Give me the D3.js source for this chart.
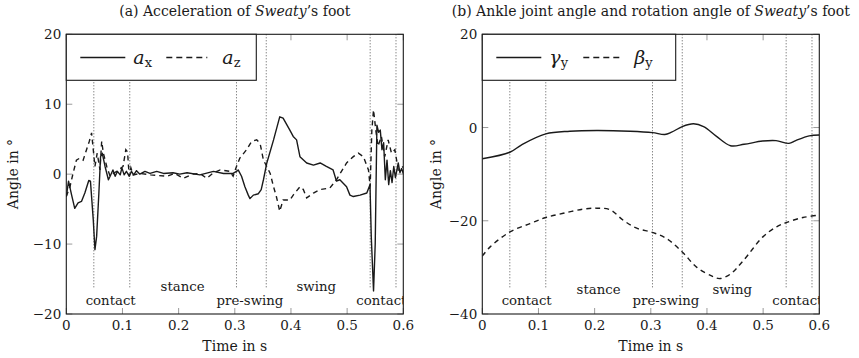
<!DOCTYPE html>
<html>
<head>
<meta charset="utf-8">
<script src="https://cdn.jsdelivr.net/npm/d3@7"></script>
<style>
body { margin: 0; background: #fff; }
</style>
</head>
<body>
<svg id="chart" width="859" height="358"></svg>
<script>
// ---- data ----
// (a) acceleration of the foot
const axTime = [0, 0.004, 0.0095, 0.015, 0.021, 0.027, 0.033, 0.040, 0.043, 0.048, 0.051, 0.054, 0.058, 0.061, 0.064, 0.069, 0.075, 0.078, 0.083, 0.087, 0.091, 0.096, 0.099, 0.103, 0.107, 0.112, 0.116, 0.120, 0.125, 0.131, 0.140, 0.149, 0.161, 0.173, 0.190, 0.202, 0.215, 0.238, 0.262, 0.280, 0.297, 0.303, 0.306, 0.312, 0.318, 0.324, 0.327, 0.333, 0.342, 0.347, 0.351, 0.357, 0.369, 0.380, 0.386, 0.398, 0.404, 0.410, 0.416, 0.428, 0.440, 0.452, 0.463, 0.475, 0.481, 0.487, 0.499, 0.505, 0.511, 0.523, 0.535, 0.5407, 0.543, 0.547, 0.550, 0.553, 0.556, 0.559, 0.562, 0.565, 0.568, 0.571, 0.574, 0.577, 0.580, 0.583, 0.586, 0.591, 0.594, 0.597, 0.600];
const axValue = [-3.2, -1.0, -3.0, -4.9, -4.1, -3.9, -2.7, -0.9, -1.0, -6.5, -10.8, -8.9, -2.7, 2.5, 3.0, 1.1, -0.8, -0.3, 0.6, -0.3, 0.4, -0.1, 0.9, -0.1, 0.4, -0.3, 0.4, -0.1, 0.5, 0.0, 0.4, 0.1, 0.4, 0.1, 0.2, 0.0, 0.2, -0.1, 0.4, 0.1, 0.1, 0.4, 0.6, -0.3, -1.8, -3.0, -3.5, -3.0, -2.8, -2.2, -0.8, 1.6, 4.9, 8.2, 8.0, 6.3, 5.4, 4.9, 2.5, 1.6, 1.3, 1.6, 1.1, 0.6, -1.0, -0.8, -1.8, -3.0, -3.2, -3.0, -2.7, -1.5, -9.0, -16.7, -10.0, 7.0, 6.0, 6.3, 3.5, 4.5, -0.8, 2.0, -1.5, 0.5, -1.2, 1.1, -0.5, 1.6, 0.2, 0.8, 0.1];

const azTime = [0, 0.0065, 0.012, 0.018, 0.024, 0.030, 0.036, 0.041, 0.045, 0.048, 0.051, 0.055, 0.060, 0.063, 0.066, 0.072, 0.078, 0.084, 0.093, 0.101, 0.106, 0.109, 0.112, 0.115, 0.119, 0.131, 0.150, 0.179, 0.193, 0.208, 0.225, 0.238, 0.250, 0.262, 0.274, 0.291, 0.297, 0.303, 0.309, 0.321, 0.330, 0.339, 0.345, 0.351, 0.357, 0.363, 0.369, 0.374, 0.380, 0.386, 0.398, 0.404, 0.416, 0.422, 0.428, 0.440, 0.452, 0.469, 0.481, 0.499, 0.511, 0.520, 0.529, 0.538, 0.541, 0.544, 0.547, 0.551, 0.555, 0.561, 0.567, 0.573, 0.579, 0.585, 0.591, 0.600];
const azValue = [-3.2, -1.8, 0.1, 2.0, 2.3, 2.0, 3.5, 4.7, 5.9, 3.5, 1.1, 3.0, 0.6, 4.7, 3.0, 1.1, -0.3, 0.1, 0.6, 1.1, 3.5, 3.2, -0.3, 0.9, -0.1, 0.1, -0.1, -0.3, 0.1, -0.6, 0.0, 0.1, -0.6, 0.2, 0.6, 0.4, -0.3, 1.1, 2.3, 3.5, 4.7, 4.9, 4.4, 2.0, 1.1, 0.1, -1.8, -3.2, -5.3, -3.7, -3.7, -3.0, -1.8, -2.2, -3.4, -2.7, -2.2, -2.0, -0.8, 1.6, 2.5, 3.0, 2.5, 0.6, -1.8, 6.3, 9.2, 6.3, 4.0, 5.4, 2.5, 4.9, 3.0, 3.5, 0.6, 1.1];

// (b) ankle joint angle and rotation angle
const gammaTime = [0, 0.049, 0.070, 0.113, 0.156, 0.204, 0.263, 0.303, 0.325, 0.337, 0.356, 0.376, 0.394, 0.417, 0.442, 0.466, 0.499, 0.523, 0.546, 0.558, 0.582, 0.600];
const gammaValue = [-6.7, -5.3, -3.7, -1.36, -0.8, -0.64, -0.8, -1.1, -1.5, -1.0, 0.2, 0.8, 0.2, -1.9, -3.9, -3.6, -2.9, -2.8, -3.4, -2.8, -1.8, -1.6];
const betaTime = [0, 0.014, 0.049, 0.085, 0.113, 0.144, 0.180, 0.204, 0.227, 0.251, 0.275, 0.303, 0.328, 0.356, 0.382, 0.411, 0.423, 0.441, 0.465, 0.500, 0.524, 0.541, 0.571, 0.600];
const betaValue = [-27.6, -25.6, -22.4, -20.6, -19.3, -18.4, -17.5, -17.3, -17.6, -19.9, -21.6, -22.5, -23.8, -26.7, -30.0, -32.0, -32.4, -31.5, -28.5, -23.4, -21.3, -20.4, -19.3, -18.8];

// gait events and phases
const eventTimes = [0.049, 0.113, 0.303, 0.356, 0.541, 0.587];
const phaseNames = ["contact", "stance", "pre-swing", "swing", "contact"];
const phaseTimes = [0.079, 0.207, 0.327, 0.445, 0.561];
const phaseUpper = [false, true, false, true, false];

const xTicks = [0, 0.1, 0.2, 0.3, 0.4, 0.5, 0.6];
const yTicksA = [-20, -10, 0, 10, 20];
const yTicksB = [-40, -20, 0, 20];

const zip = (ts, vs) => ts.map((t, i) => ({t: t, v: vs[i]}));

const svg = d3.select("#chart");
const ink = "#1a1a1a";
const tickGray = "#9a9a9a";
const serif = "'DejaVu Serif', serif";

function fmtTick(d) {
    return d < 0 ? "\u2212" + Math.abs(d) : String(d);
}

/**
 * Draw one panel of the figure.
 */
function drawPanel(p) {
    let x = d3.scaleLinear().domain([0, 0.6]).range([p.left, p.right]);
    let y = d3.scaleLinear().domain(p.yDomain).range([314, 34.3]);
    let g = svg.append("g").attr("font-family", serif).attr("fill", ink);

    // clip for curves and phase labels
    g.append("clipPath").attr("id", p.id + "clip")
        .append("rect")
        .attr("x", p.left).attr("y", 34.3)
        .attr("width", p.right - p.left).attr("height", 314 - 34.3);

    // title
    let title = g.append("text")
        .attr("x", (p.left + p.right) / 2).attr("y", 15.5)
        .attr("text-anchor", "middle")
        .attr("font-size", 14);
    title.append("tspan").text(p.titleA);
    title.append("tspan").attr("font-style", "italic").text("Sweaty");
    title.append("tspan").text("\u2019s foot");

    // tick marks (inside, all sides)
    let ticks = g.append("g").attr("stroke", tickGray).attr("stroke-width", 1);
    xTicks.forEach(t => {
        ticks.append("line").attr("x1", x(t)).attr("x2", x(t)).attr("y1", 314).attr("y2", 308);
        ticks.append("line").attr("x1", x(t)).attr("x2", x(t)).attr("y1", 34.3).attr("y2", 40.3);
    });
    p.yTicks.forEach(v => {
        ticks.append("line").attr("x1", p.left).attr("x2", p.left + 6).attr("y1", y(v)).attr("y2", y(v));
        ticks.append("line").attr("x1", p.right).attr("x2", p.right - 6).attr("y1", y(v)).attr("y2", y(v));
    });

    // gait event markers
    let ev = g.append("g").attr("stroke", "#444").attr("stroke-width", 0.9)
        .attr("stroke-dasharray", "1,2");
    eventTimes.forEach(t => {
        ev.append("line").attr("x1", x(t)).attr("x2", x(t))
            .attr("y1", 34.3).attr("y2", y(p.eventEnd));
    });

    // curves
    let line = d3.line().x(d => x(d.t)).y(d => y(d.v)).curve(p.curve);
    let curves = g.append("g").attr("clip-path", "url(#" + p.id + "clip)");
    curves.append("path").datum(p.solid)
        .attr("d", line).attr("fill", "none").attr("stroke", ink)
        .attr("stroke-width", 1.4).attr("stroke-linejoin", "round");
    curves.append("path").datum(p.dashed)
        .attr("d", line).attr("fill", "none").attr("stroke", ink)
        .attr("stroke-width", 1.4).attr("stroke-dasharray", "5,4");

    // phase labels
    let labels = g.append("g").attr("clip-path", "url(#" + p.id + "clip)");
    phaseNames.forEach((name, i) => {
        labels.append("text")
            .attr("x", x(phaseTimes[i]))
            .attr("y", y(phaseUpper[i] ? p.upperRow : p.lowerRow))
            .attr("text-anchor", "middle")
            .attr("font-size", 13.3)
            .text(name);
    });

    // frame
    g.append("rect")
        .attr("x", p.left).attr("y", 34.3)
        .attr("width", p.right - p.left).attr("height", 314 - 34.3)
        .attr("fill", "none").attr("stroke", ink).attr("stroke-width", 1.1);

    // tick labels
    xTicks.forEach(t => {
        g.append("text").attr("x", x(t)).attr("y", 330)
            .attr("text-anchor", "middle").attr("font-size", 13.5)
            .text(fmtTick(t));
    });
    p.yTicks.forEach(v => {
        g.append("text").attr("x", p.left - 5).attr("y", y(v) + 5)
            .attr("text-anchor", "end").attr("font-size", 13.5)
            .text(fmtTick(v));
    });

    // axis labels
    g.append("text").attr("x", (p.left + p.right) / 2).attr("y", 351)
        .attr("text-anchor", "middle").attr("font-size", 14)
        .text("Time in s");
    g.append("text")
        .attr("transform", "translate(" + p.yLabelX + ",174) rotate(-90)")
        .attr("text-anchor", "middle").attr("font-size", 14)
        .text("Angle in \u00b0");

    // legend
    let lg = g.append("g");
    lg.append("rect")
        .attr("x", p.left).attr("y", 34.3)
        .attr("width", p.legendWidth).attr("height", 46)
        .attr("fill", "#fff").attr("stroke", ink).attr("stroke-width", 1.1);
    let ly = 57.5;
    lg.append("line").attr("x1", p.left + p.leg[0]).attr("x2", p.left + p.leg[1])
        .attr("y1", ly).attr("y2", ly).attr("stroke", ink).attr("stroke-width", 1.6);
    lg.append("line").attr("x1", p.left + p.leg[3]).attr("x2", p.left + p.leg[4])
        .attr("y1", ly).attr("y2", ly).attr("stroke", ink).attr("stroke-width", 1.6)
        .attr("stroke-dasharray", "6,4");
    [[p.leg[2], p.names[0]], [p.leg[5], p.names[1]]].forEach(e => {
        let tx = lg.append("text").attr("x", p.left + e[0]).attr("y", 64);
        tx.append("tspan").attr("font-style", "italic").attr("font-size", 19).text(e[1][0]);
        tx.append("tspan").attr("dy", 3).attr("font-size", 13).text(e[1][1]);
    });
}

drawPanel({
    id: "a", left: 66.3, right: 403.3, yDomain: [-20, 20], yTicks: yTicksA,
    titleA: "(a) Acceleration of ",
    solid: zip(axTime, axValue), dashed: zip(azTime, azValue),
    curve: d3.curveLinear,
    eventEnd: -16.2, upperRow: -16.7, lowerRow: -18.7,
    yLabelX: 18,
    legendWidth: 190, leg: [14, 59, 67, 100, 141, 156],
    names: [["a", "x"], ["a", "z"]]
});

drawPanel({
    id: "b", left: 482.3, right: 819.3, yDomain: [-40, 20], yTicks: yTicksB,
    titleA: "(b) Ankle joint angle and rotation angle of ",
    solid: zip(gammaTime, gammaValue), dashed: zip(betaTime, betaValue),
    curve: d3.curveCatmullRom,
    eventEnd: -34.3, upperRow: -35.8, lowerRow: -38.1,
    yLabelX: 441,
    legendWidth: 193.4, leg: [14, 59, 67, 101, 141, 152],
    names: [["\u03b3", "y"], ["\u03b2", "y"]]
});
</script>
</body>
</html>
